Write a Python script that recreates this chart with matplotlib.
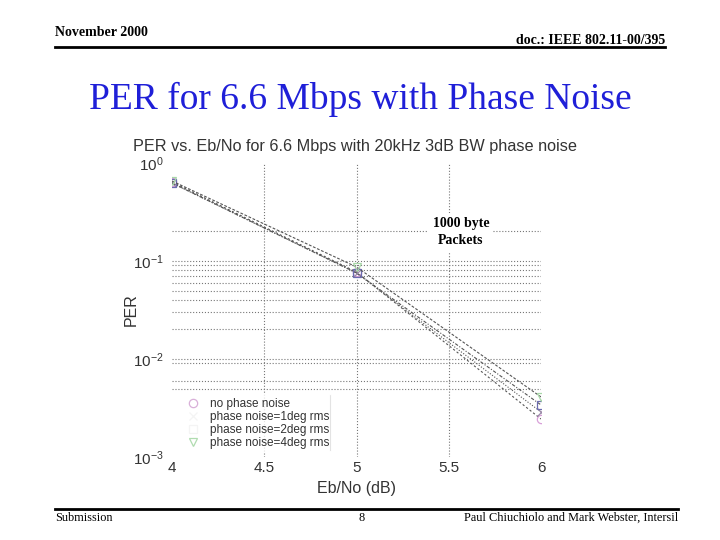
import numpy as np
import matplotlib
matplotlib.use('Agg')
import matplotlib.pyplot as plt

plt.rcParams['font.family'] = ['Liberation Sans', 'DejaVu Sans']
plt.rcParams['mathtext.fontset'] = 'custom'
plt.rcParams['mathtext.rm'] = 'Liberation Sans'

# Eb/No (dB) i PER dla kazdego poziomu szumu fazowego
ebno = [4, 5, 6]
per_no_noise = [0.640, 0.0772, 0.00244]
per_1deg = [0.625, 0.0755, 0.00288]
per_2deg = [0.625, 0.0755, 0.00340]
per_4deg = [0.655, 0.0869, 0.00410]

# linie siatki widoczne na oryginale
y_major = [1e-3, 1e-2, 1e-1, 1]
y_minor = [0.2, 0.09, 0.08, 0.07, 0.06, 0.05, 0.04, 0.03, 0.02, 0.009, 0.006, 0.005]

series = [
    ('no phase noise', per_no_noise, '#d9a0d9', 'o', (0, (2, 2)), '#d9b0d9'),
    ('phase noise=1deg rms', per_1deg, '#9a8aa8', 'x', (0, (1, 1.5)), '#f4f4f4'),
    ('phase noise=2deg rms', per_2deg, '#6b6bb0', 's', (0, (3, 1.5, 1, 1.5)), '#f4f4f4'),
    ('phase noise=4deg rms', per_4deg, '#a8d8a8', 'v', (0, (2.5, 1.5)), '#b0dcb0'),
]

fig = plt.figure(figsize=(7.2, 5.4), dpi=100)
fig.patch.set_facecolor('white')

# naglowek i stopka slajdu
fig.text(55/720, 1-32/540, 'November 2000', family='Liberation Serif', weight='bold',
         fontsize=10, ha='left', va='center')
fig.text(665/720, 1-40/540, 'doc.: IEEE 802.11-00/395', family='Liberation Serif',
         weight='bold', fontsize=10, ha='right', va='center')
fig.add_artist(plt.Line2D([55/720, 665/720], [1-47/540, 1-47/540], color='black', lw=2))
fig.text(360/720, 1-99/540, 'PER for 6.6 Mbps with Phase Noise', family='Liberation Serif',
         fontsize=27, color='#1f1fd8', ha='center', va='center')
fig.add_artist(plt.Line2D([55/720, 678/720], [1-509/540, 1-509/540], color='black', lw=2))
fig.text(55/720, 1-518/540, 'Submission', family='Liberation Serif', fontsize=8.8,
         ha='left', va='center')
fig.text(362/720, 1-518/540, '8', family='Liberation Serif', fontsize=8.8,
         ha='center', va='center')
fig.text(678/720, 1-518/540, 'Paul Chiuchiolo and Mark Webster, Intersil',
         family='Liberation Serif', fontsize=8.8, ha='right', va='center')

ax = fig.add_axes([172/720, 1-457/540, 369/720, 294/540])
handles = []
for name, vals, col, mk, ls, lcol in series:
    ax.plot(ebno, vals, color='#555555', lw=0.8, linestyle=ls)
    ax.plot(ebno, vals, linestyle='none', marker=mk, color=col, markersize=6,
            markerfacecolor='none', markeredgewidth=0.9)
    h, = ax.plot([], [], linestyle='none', marker=mk, color=lcol, markersize=6,
                 markerfacecolor='none', markeredgewidth=0.9, label=name)
    handles.append(h)

ax.set_yscale('log')
ax.set_xlim(4, 6)
ax.set_ylim(1e-3, 1)
ax.set_xticks([4, 4.5, 5, 5.5, 6])
ax.set_xticklabels(['4', '4.5', '5', '5.5', '6'])
ax.set_yticks(y_major)
ax.set_yticks(y_minor, minor=True)
ax.grid(True, which='major', axis='x', color='#777777', linestyle=':', lw=0.8)
ax.grid(True, which='both', axis='y', color='#777777', linestyle=':', lw=0.8)
# bez linii siatki na krawedziach (1e-3 i 1e0)
ymt = ax.yaxis.get_major_ticks()
ymt[0].gridline.set_visible(False)
ymt[-1].gridline.set_visible(False)
xmt = ax.xaxis.get_major_ticks()
xmt[0].gridline.set_visible(False)
xmt[-1].gridline.set_visible(False)
for s in ax.spines.values():
    s.set_visible(False)
ax.tick_params(which='both', length=0, labelsize=11, colors='#333333')
ax.tick_params(axis='x', pad=3)
ax.tick_params(axis='y', pad=6)

ax.set_title('PER vs. Eb/No for 6.6 Mbps with 20kHz 3dB BW phase noise', fontsize=11.7,
             color='#333333', loc='left', x=-0.105, pad=9)
ax.set_xlabel('Eb/No (dB)', fontsize=11.5, color='#333333', labelpad=4)
ax.set_ylabel('PER', fontsize=11.5, color='#333333', labelpad=-4)

leg = ax.legend(handles=handles, loc='lower left', bbox_to_anchor=(0.0, -0.004), frameon=True,
                fancybox=False, handletextpad=0.4, fontsize=8.5, labelspacing=0.08,
                borderpad=0.3)
leg.get_frame().set_edgecolor('white')
leg.get_frame().set_facecolor('white')
for t in leg.get_texts():
    t.set_color('#333333')
ax.plot([0.428, 0.428], [0.024, 0.21], transform=ax.transAxes, color='#777777', lw=0.8)

ax.text(0.783, 0.765, '1000 byte\nPackets', transform=ax.transAxes, family='Liberation Serif',
        weight='bold', fontsize=10, ha='center', va='center', linespacing=1.45,
        bbox=dict(facecolor='white', edgecolor='none', pad=3))

fig.savefig('out.png', dpi=100)
